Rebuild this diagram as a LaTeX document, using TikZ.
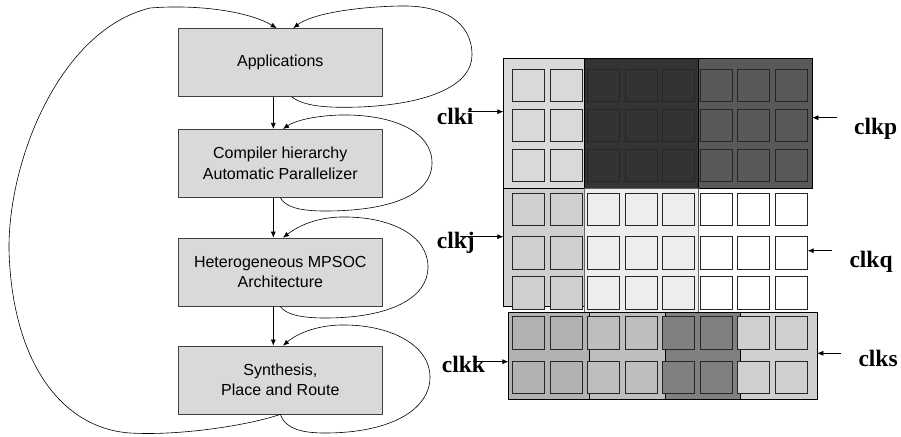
\documentclass[tikz,border=0pt]{standalone}
\usepackage{fontspec}
\setmainfont{Liberation Serif}
\newfontfamily\boxfont{Liberation Sans}
\usetikzlibrary{arrows.meta}

% stage boxes
\definecolor{stagefill}{HTML}{D9D9D9}
% upper clock band
\definecolor{upA}{HTML}{D9D9D9}
\definecolor{upB}{HTML}{333333}
\definecolor{upC}{HTML}{595959}
% middle clock band
\definecolor{midA}{HTML}{CFCFCF}
\definecolor{midB}{HTML}{EDEDED}
\definecolor{midC}{HTML}{FFFFFF}
% lower clock band
\definecolor{lowA}{HTML}{B2B2B2}
\definecolor{lowB}{HTML}{BEBEBE}
\definecolor{lowC}{HTML}{808080}
\definecolor{lowD}{HTML}{D0D0D0}

\begin{document}
\begin{tikzpicture}[x=1pt,y=-1pt,
  stage/.style={draw=black!75, fill=stagefill, minimum width=204pt,
    minimum height=68pt, align=center, inner sep=0pt, line width=0.7pt,
    font=\boxfont\fontsize{16}{20.5}\selectfont},
  flow/.style={-{Latex[length=6pt,width=5pt]}, line width=0.6pt},
  clk/.style={anchor=base west, inner sep=0pt,
    font=\bfseries\fontsize{23.5}{25}\selectfont},
  cell/.style={draw=black!85, line width=0.8pt},
  region/.style={draw=black, line width=0.8pt}
]
\path[use as bounding box] (0,0) rectangle (901,436);

% ---------- design flow ----------
\node[stage] (app)  at (280.3,62.5) {Applications};
\node[stage] (comp) at (280.3,163.3) {Compiler hierarchy\\Automatic Parallelizer};
\node[stage] (het)  at (280.3,272) {Heterogeneous MPSOC\\Architecture};
\node[stage] (syn)  at (280.3,380) {Synthesis,\\Place and Route};

\draw[flow] ([xshift=-7pt]app.south)  -- ([xshift=-7pt]comp.north);
\draw[flow] ([xshift=-7pt]comp.south) -- ([xshift=-7pt]het.north);
\draw[flow] ([xshift=-7pt]het.south)  -- ([xshift=-7pt]syn.north);

% self loops on each stage
\draw[flow] ([xshift=11.4pt]app.south) .. controls (305,107) and (330,108) .. (360,107)
  .. controls (430,104) and (472,85) .. (472,55)
  .. controls (472,20) and (440,5) .. (400,6)
  .. controls (350,7) and (310,15) .. ([xshift=13pt]app.north);
\draw[flow] (comp.south) .. controls (285,207) and (300,211) .. (325,211)
  .. controls (390,211) and (432,195) .. (432,163)
  .. controls (432,130) and (390,114) .. (340,115)
  .. controls (310,116) and (293,122) .. ([xshift=2.7pt]comp.north);
\draw[flow] (het.south) .. controls (285,314) and (300,318) .. (325,318)
  .. controls (390,318) and (428,298) .. (428,267)
  .. controls (428,235) and (390,216) .. (340,217)
  .. controls (310,218) and (293,230) .. ([xshift=2.7pt]het.north);
\draw[flow] (syn.south) .. controls (285,428) and (300,433) .. (325,433)
  .. controls (390,433) and (430,410) .. (430,377)
  .. controls (430,345) and (390,324) .. (340,325)
  .. controls (310,326) and (293,337) .. ([xshift=2.7pt]syn.north);

% global loop back to the top
\draw[flow] (syn.south) .. controls (250,425) and (180,436) .. (130,433)
  .. controls (60,428) and (12,360) .. (9,250)
  .. controls (8,160) and (60,30) .. (150,8)
  .. controls (200,4) and (250,12) .. ([xshift=-3.6pt]app.north);

% ---------- clock regions ----------
% upper band
\draw[region,fill=upA] (503.3,58.3) rectangle (584.3,188.3);
\draw[region,fill=upB] (584.3,58.3) rectangle (698.3,188.3);
\draw[region,fill=upC] (698.3,58.3) rectangle (812.3,188.3);
% middle band
\draw[region,fill=midA] (503.3,188.3) rectangle (584.3,306.7);
\draw[draw=black!60,line width=0.6pt,fill=midB] (584.3,188.3) rectangle (698.3,312.3);
% lower band
\draw[region,fill=lowA] (508.3,312.3) rectangle (589,399);
\draw[region,fill=lowB] (589,312.3) rectangle (665.3,399);
\draw[region,fill=lowC] (665.3,312.3) rectangle (740.7,399);
\draw[region,fill=lowD] (740.7,312.3) rectangle (817.3,399);

% logic cells
\foreach \c/\f in {0/upA,1/upA,2/upB,3/upB,4/upB,5/upC,6/upC,7/upC}
  \foreach \r in {69.3,109,149.3}
    \draw[cell,fill=\f] ({512.7+37.5*\c},\r) rectangle ++(32,32.5);
\foreach \c/\f in {0/midA,1/midA,2/midB,3/midB,4/midB,5/midC,6/midC,7/midC}
  \foreach \r in {193.3,236.7,276.7}
    \draw[cell,fill=\f] ({512.7+37.5*\c},\r) rectangle ++(32,32.5);
\foreach \c/\f in {0/lowA,1/lowA,2/lowB,3/lowB,4/lowC,5/lowC,6/lowD,7/lowD}
  \foreach \r in {316.7,361}
    \draw[cell,fill=\f] ({512.7+37.5*\c},\r) rectangle ++(32,32.5);

% ---------- clock labels and inputs ----------
\node[clk] (ci) at (436.7,124.3) {clki};
\node[clk] (cj) at (436.7,248.3) {clkj};
\node[clk] (ck) at (441.7,372.7) {clkk};
\node[clk] (cp) at (854,134.3) {clkp};
\node[clk] (cq) at (849.3,267.3) {clkq};
\node[clk] (cs) at (858.3,366.7) {clks};

\coordinate (iT) at (468,111.7);  \coordinate (iH) at (503.3,111.7);
\coordinate (jT) at (460,236.7);  \coordinate (jH) at (503.3,236.7);
\coordinate (kT) at (473,361.7);  \coordinate (kH) at (508.3,361.7);
\coordinate (pT) at (836.7,117.7); \coordinate (pH) at (812.3,117.7);
\coordinate (qT) at (831.7,250.7); \coordinate (qH) at (807.7,250.7);
\coordinate (sT) at (841,353.3);  \coordinate (sH) at (817.3,353.3);

\draw[flow] (iT) -- (iH);
\draw[flow] (jT) -- (jH);
\draw[flow] (kT) -- (kH);
\draw[flow] (pT) -- (pH);
\draw[flow] (qT) -- (qH);
\draw[flow] (sT) -- (sH);
\end{tikzpicture}
\end{document}
